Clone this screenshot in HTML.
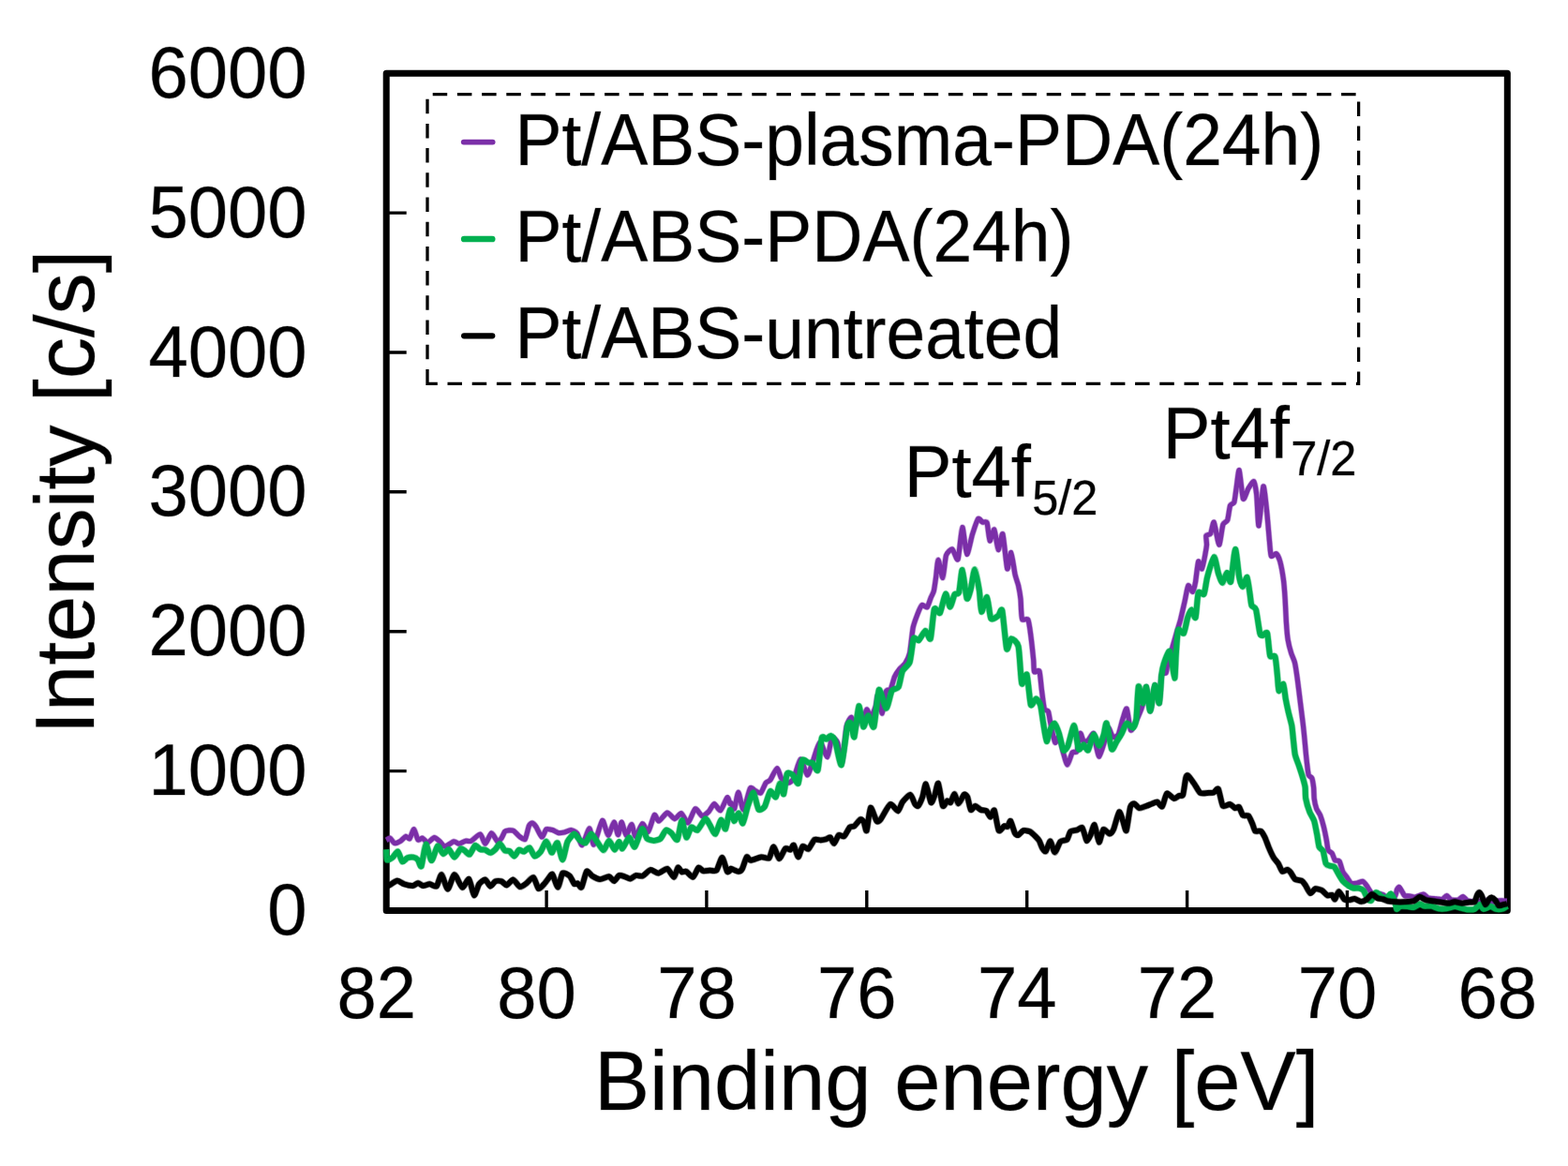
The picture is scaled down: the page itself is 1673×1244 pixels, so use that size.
<!DOCTYPE html>
<html lang="en">
<head>
<meta charset="utf-8">
<title>Pt4f XPS spectra</title>
<style>
html,body{margin:0;padding:0;background:#fff;}
body{width:1673px;height:1244px;overflow:hidden;}
svg{display:block;font-family:"Liberation Sans",Arial,Helvetica,sans-serif;fill:#000;}
text{stroke:#000;stroke-opacity:.3;stroke-width:1.1px;paint-order:stroke;stroke-linejoin:round;}
.halo{opacity:.4;}
.t75{font-size:75px;}
.t76{font-size:76px;}
.t88{font-size:88.6px;}
.sub{font-size:50.5px;}
</style>
</head>
<body>
<svg width="1673" height="1244" viewBox="0 0 1673 1244">
<rect width="1673" height="1244" fill="#fff"/>
<g>
<g class="t76">
<text transform="translate(327.5,103.8) scale(1,1.035)" text-anchor="end">6000</text>
<text transform="translate(327.5,252.7) scale(1,1.035)" text-anchor="end">5000</text>
<text transform="translate(327.5,401.6) scale(1,1.035)" text-anchor="end">4000</text>
<text transform="translate(327.5,550.4) scale(1,1.035)" text-anchor="end">3000</text>
<text transform="translate(327.5,699.3) scale(1,1.035)" text-anchor="end">2000</text>
<text transform="translate(327.5,848.2) scale(1,1.035)" text-anchor="end">1000</text>
<text transform="translate(327.5,997.1) scale(1,1.035)" text-anchor="end">0</text>
<text transform="translate(401.7,1086.4) scale(1,1.035)" text-anchor="middle">82</text>
<text transform="translate(572.6,1086.4) scale(1,1.035)" text-anchor="middle">80</text>
<text transform="translate(743.4,1086.4) scale(1,1.035)" text-anchor="middle">78</text>
<text transform="translate(914.3,1086.4) scale(1,1.035)" text-anchor="middle">76</text>
<text transform="translate(1085.2,1086.4) scale(1,1.035)" text-anchor="middle">74</text>
<text transform="translate(1256.1,1086.4) scale(1,1.035)" text-anchor="middle">72</text>
<text transform="translate(1426.9,1086.4) scale(1,1.035)" text-anchor="middle">70</text>
<text transform="translate(1597.8,1086.4) scale(1,1.035)" text-anchor="middle">68</text>
</g>
<text class="t88" transform="translate(100,783.5) rotate(-90)" x="0" y="0">Intensity [c/s]</text>
<text class="t88" x="634" y="1184">Binding energy [eV]</text>
<rect x="412.2" y="78.2" width="1196.1" height="893.3" fill="none" stroke="#000" stroke-width="7" stroke-linejoin="round"/>
<path d="M412.2,227.1h21.5M412.2,376.0h21.5M412.2,524.8h21.5M412.2,673.7h21.5M412.2,822.6h21.5M583.1,971.5v-21.5M753.9,971.5v-21.5M924.8,971.5v-21.5M1095.7,971.5v-21.5M1266.6,971.5v-21.5M1437.4,971.5v-21.5" fill="none" stroke="#000" stroke-width="3.4"/>
<path d="M456,409.4V100.7H1449.6V409.4Z" fill="none" stroke="#000" stroke-width="3.3" stroke-dasharray="15.5 10.7"/>
<g fill="none" stroke-linecap="round" stroke-linejoin="round">
<path d="M494.8,151.6H525.6" stroke="#7b2fa8" stroke-width="5.9"/>
<path d="M495.2,255H525.2" stroke="#00b050" stroke-width="6.7"/>
<path d="M495.2,358.3H525.2" stroke="#000" stroke-width="6.3"/>
</g>
<g class="t75">
<text transform="translate(549.5,176.2) scale(1,1.025)">Pt/ABS-plasma-PDA(24h)</text>
<text transform="translate(549.5,279.3) scale(1,1.025)">Pt/ABS-PDA(24h)</text>
<text transform="translate(549.5,381.9) scale(1,1.025)">Pt/ABS-untreated</text>
<text class="t76" transform="translate(964.8,530.3) scale(1,1.03)">Pt4f<tspan class="sub" dx="1.2" dy="18">5/2</tspan></text>
<text class="t76" transform="translate(1240.8,488.6) scale(1,1.03)">Pt4f<tspan class="sub" dx="1.2" dy="18">7/2</tspan></text>
</g>
<g fill="none" stroke-linecap="butt" stroke-linejoin="round">
<path class="halo" d="M412.2,896.4C412.6,896.2 415.2,893.9 416.1,894.2C417.0,894.5 419.7,899.3 420.9,899.6C422.1,899.9 426.2,898.0 427.5,897.2C428.8,896.4 431.9,892.7 432.9,892.4C433.9,892.1 436.2,895.6 437.1,894.8C438.0,894.0 440.7,884.6 441.6,884.7C442.5,884.8 445.0,895.0 446.0,896.0C447.0,897.0 449.7,893.9 450.8,894.2C451.9,894.5 454.9,899.1 456.2,899.0C457.5,898.9 462.0,893.7 463.4,893.6C464.8,893.5 468.1,896.8 469.3,897.8C470.5,898.8 473.1,903.2 474.7,903.2C476.3,903.2 482.7,898.1 484.3,897.8C485.9,897.5 488.4,900.3 489.7,900.2C491.0,900.1 495.4,897.5 496.8,897.2C498.2,896.9 501.1,898.0 502.8,897.2C504.5,896.4 510.8,889.7 512.4,890.0C514.0,890.3 516.5,900.3 517.8,900.2C519.1,900.1 522.9,889.2 524.3,888.9C525.7,888.6 529.7,897.2 530.9,897.8C532.1,898.4 534.3,895.3 535.1,894.2C535.9,893.1 537.9,888.0 538.7,887.1C539.5,886.2 541.9,886.0 542.9,885.9C543.9,885.8 547.0,885.8 548.2,886.5C549.4,887.2 552.9,891.5 554.2,892.4C555.5,893.3 559.1,896.6 560.2,895.4C561.3,894.2 563.6,882.9 564.4,881.1C565.2,879.3 567.2,878.0 568.0,878.1C568.8,878.2 571.0,880.7 572.1,882.3C573.2,883.9 576.9,892.7 578.1,893.0C579.3,893.3 581.8,885.5 582.9,884.7C584.0,883.9 587.5,885.2 588.3,885.3C589.1,885.4 589.2,885.2 590.0,885.6C590.8,886.0 594.7,888.3 596.0,888.6C597.3,888.9 600.6,888.3 602.0,888.0C603.4,887.7 607.6,885.5 609.1,885.6C610.6,885.7 614.4,887.5 615.7,889.2C617.0,890.9 619.7,902.3 621.1,901.7C622.5,901.1 627.6,883.9 628.9,883.8C630.2,883.7 632.1,902.0 633.6,901.1C635.1,900.2 641.0,876.5 642.6,875.4C644.2,874.3 647.5,891.0 648.8,891.2C650.1,891.4 654.1,877.3 655.2,877.2C656.3,877.1 658.6,890.7 659.5,890.7C660.4,890.7 662.3,877.1 663.2,877.2C664.1,877.3 667.0,890.9 668.1,891.2C669.2,891.5 672.8,879.5 673.9,879.6C675.0,879.7 676.9,892.5 678.1,892.4C679.3,892.3 684.0,879.3 685.4,878.8C686.8,878.3 690.2,888.4 691.6,887.4C693.0,886.4 697.0,870.7 698.2,869.5C699.4,868.3 701.5,876.3 703.0,876.0C704.5,875.7 710.1,867.4 711.9,867.1C713.7,866.8 718.1,873.5 719.7,873.6C721.3,873.7 725.4,867.3 726.9,867.7C728.4,868.1 732.5,878.3 734.1,877.8C735.7,877.3 740.2,863.7 741.8,862.9C743.4,862.1 747.5,870.3 749.0,870.6C750.5,870.9 754.8,867.3 756.2,865.9C757.6,864.5 760.8,857.6 762.1,857.5C763.4,857.4 767.2,865.4 768.7,864.7C770.2,864.0 774.8,851.7 775.9,850.9C777.0,850.1 778.5,856.9 778.9,857.5C779.3,858.1 779.5,856.1 780.0,856.7C780.5,857.3 782.8,863.9 783.6,862.7C784.4,861.5 786.8,845.3 787.8,845.4C788.8,845.5 791.9,864.3 793.2,863.9C794.5,863.5 799.0,843.4 800.3,841.2C801.6,839.0 804.5,843.1 805.7,843.6C806.9,844.1 810.5,846.9 811.7,846.0C812.9,845.1 816.0,836.7 817.1,835.2C818.2,833.7 820.5,833.9 821.8,832.2C823.1,830.5 827.7,819.9 829.0,819.7C830.3,819.5 832.5,828.7 833.8,830.4C835.1,832.1 839.6,835.2 841.0,835.2C842.4,835.2 845.5,833.1 846.9,830.4C848.3,827.7 852.6,810.5 854.1,810.1C855.6,809.7 860.0,826.2 861.3,826.8C862.6,827.4 865.0,819.0 866.1,816.1C867.2,813.2 870.5,801.8 871.5,799.3C872.5,796.8 874.4,791.3 875.6,792.2C876.8,793.1 881.5,808.2 882.8,807.7C884.1,807.2 886.4,789.1 887.6,787.4C888.8,785.7 892.4,789.4 893.6,792.2C894.8,795.0 897.4,815.5 898.4,813.7C899.4,811.9 902.0,780.6 903.1,775.4C904.2,770.2 907.5,765.0 908.5,765.3C909.5,765.6 911.9,778.2 912.7,777.8C913.5,777.4 915.5,762.0 916.3,761.1C917.1,760.2 919.6,769.9 920.5,769.5C921.4,769.1 923.8,757.4 924.7,756.9C925.6,756.4 928.4,765.0 929.4,764.7C930.4,764.4 933.4,756.3 934.2,753.9C935.0,751.5 935.8,741.2 936.6,742.0C937.4,742.8 940.5,761.6 941.4,761.1C942.3,760.6 944.6,740.4 945.5,737.6C946.4,734.8 949.3,736.9 950.3,735.2C951.3,733.5 953.5,724.4 954.5,722.1C955.5,719.8 958.7,715.2 959.9,713.7C961.1,712.2 964.8,709.5 965.9,707.7C967.0,705.9 969.7,701.0 970.6,696.9C971.5,692.8 973.3,674.0 974.2,669.5C975.1,665.0 978.0,657.7 979.0,655.1C980.0,652.5 982.7,646.3 983.8,645.5C984.9,644.7 988.2,648.8 989.2,647.9C990.2,647.0 992.6,639.0 993.4,637.2C994.2,635.4 995.7,633.0 996.3,630.7C996.9,628.4 998.2,618.8 998.7,615.2C999.2,611.6 1000.3,597.2 1001.1,597.3C1001.9,597.4 1005.0,616.9 1005.9,616.4C1006.8,615.9 1008.4,595.8 1009.5,592.5C1010.6,589.2 1014.8,585.5 1016.1,585.9C1017.4,586.3 1021.0,599.2 1022.1,596.7C1023.2,594.2 1025.8,563.2 1026.8,562.6C1027.8,562.0 1030.4,590.5 1031.6,591.3C1032.8,592.1 1036.3,573.8 1037.6,569.8C1038.9,565.8 1042.4,554.9 1043.6,553.6C1044.8,552.3 1047.4,556.8 1048.4,557.2C1049.4,557.6 1052.3,555.7 1053.1,557.8C1053.9,559.9 1055.3,576.1 1056.1,576.9C1056.9,577.7 1059.9,564.0 1060.9,565.0C1061.9,566.0 1064.1,586.0 1065.1,586.5C1066.1,587.0 1068.9,567.6 1069.9,569.8C1070.9,572.0 1073.8,604.7 1074.7,606.8C1075.6,608.9 1077.9,588.9 1078.8,589.5C1079.7,590.1 1082.2,609.0 1083.0,612.8C1083.8,616.6 1086.0,622.0 1086.6,624.8C1087.2,627.6 1088.7,636.3 1089.0,639.1C1089.3,641.9 1089.4,649.2 1089.6,651.5C1089.8,653.8 1090.0,660.1 1090.8,661.1C1091.6,662.1 1095.8,659.3 1096.8,661.1C1097.8,662.9 1099.2,673.2 1099.8,677.8C1100.4,682.4 1102.3,700.0 1102.7,704.1C1103.1,708.2 1102.9,715.4 1103.6,716.7C1104.3,718.0 1108.2,714.1 1109.0,716.1C1109.8,718.1 1110.8,731.6 1111.4,735.9C1112.0,740.2 1113.5,753.7 1114.3,756.2C1115.1,758.7 1117.8,757.5 1118.5,759.2C1119.2,760.9 1120.1,768.2 1120.9,771.7C1121.7,775.2 1124.7,790.6 1125.7,792.1C1126.7,793.6 1128.9,784.8 1129.9,786.1C1130.9,787.4 1133.7,800.8 1134.7,804.0C1135.7,807.2 1137.9,816.1 1138.9,816.0C1139.9,815.9 1143.1,804.3 1144.2,802.8C1145.3,801.3 1148.1,803.8 1149.0,801.6C1149.9,799.4 1151.8,783.6 1152.6,782.5C1153.4,781.4 1155.3,790.1 1156.2,790.9C1157.1,791.7 1159.9,790.6 1161.0,789.7C1162.1,788.8 1166.0,781.7 1166.9,782.5C1167.8,783.3 1169.3,794.8 1169.9,797.4C1170.5,800.0 1172.1,807.5 1172.9,807.1C1173.7,806.7 1176.7,797.1 1177.7,793.8C1178.7,790.5 1181.5,777.3 1182.5,776.5C1183.5,775.7 1186.2,785.3 1187.3,786.1C1188.4,786.9 1192.1,785.7 1193.2,783.7C1194.3,781.7 1197.0,769.8 1198.0,766.9C1199.0,764.0 1201.3,754.9 1202.2,756.2C1203.1,757.5 1205.4,777.2 1206.4,778.9C1207.4,780.6 1210.0,774.1 1211.2,771.7C1212.4,769.3 1216.9,758.5 1217.8,756.2C1218.7,753.9 1218.9,752.7 1219.5,750.2C1220.1,747.7 1222.3,732.0 1223.1,732.9C1223.9,733.8 1226.3,758.8 1227.3,758.6C1228.3,758.4 1231.1,732.0 1232.1,731.1C1233.1,730.2 1236.1,751.4 1236.9,750.2C1237.7,749.0 1238.5,723.7 1239.3,720.3C1240.1,716.9 1243.4,719.1 1244.1,717.9C1244.8,716.7 1245.0,712.1 1245.7,709.1C1246.4,706.1 1250.0,693.8 1251.1,690.0C1252.2,686.2 1255.0,676.3 1255.9,673.2C1256.8,670.1 1258.6,664.7 1259.5,661.3C1260.4,657.9 1263.3,644.9 1264.2,641.0C1265.1,637.1 1266.9,625.8 1267.8,624.8C1268.7,623.8 1271.8,631.8 1272.6,631.4C1273.4,631.0 1275.0,624.0 1275.6,620.6C1276.2,617.2 1277.9,600.6 1278.6,599.1C1279.3,597.6 1281.6,607.7 1282.4,606.9C1283.2,606.1 1285.3,594.7 1285.8,592.0C1286.3,589.3 1287.4,583.4 1287.5,581.2C1287.6,579.0 1286.5,572.9 1286.9,571.6C1287.3,570.3 1290.8,570.7 1291.7,569.2C1292.6,567.7 1294.3,556.0 1295.3,557.3C1296.3,558.6 1299.7,580.9 1300.7,581.2C1301.7,581.5 1303.9,562.5 1304.9,559.7C1305.9,556.9 1308.9,557.1 1309.7,554.9C1310.5,552.7 1311.8,541.3 1312.6,539.3C1313.4,537.3 1316.1,537.8 1316.8,535.8C1317.5,533.8 1318.6,523.8 1319.2,520.2C1319.8,516.6 1321.4,500.4 1322.2,501.7C1323.0,503.0 1325.4,530.1 1326.4,532.2C1327.4,534.3 1330.6,523.4 1331.8,521.4C1333.0,519.4 1336.9,513.0 1337.8,513.6C1338.7,514.2 1340.1,522.4 1340.7,527.4C1341.3,532.4 1342.3,561.8 1343.1,560.9C1343.9,560.0 1347.0,520.8 1347.9,519.0C1348.8,517.2 1350.8,537.8 1351.5,544.1C1352.2,550.4 1354.0,572.4 1354.5,577.6C1355.0,582.8 1355.5,591.7 1356.3,593.1C1357.1,594.5 1360.7,590.1 1361.7,590.7C1362.7,591.3 1365.0,596.2 1365.8,599.1C1366.6,602.0 1368.8,614.0 1369.4,618.3C1370.0,622.6 1370.9,635.0 1371.2,639.8C1371.5,644.6 1372.1,659.1 1372.4,663.7C1372.7,668.3 1373.6,679.2 1374.2,682.8C1374.8,686.4 1377.0,694.7 1377.8,697.2C1378.6,699.7 1380.7,703.9 1381.4,706.7C1382.1,709.5 1383.6,719.5 1384.2,723.9C1384.8,728.3 1386.6,742.7 1387.2,747.8C1387.8,752.9 1389.6,766.6 1390.2,771.7C1390.8,776.8 1392.2,791.1 1392.6,795.6C1393.0,800.1 1394.0,810.3 1394.4,813.6C1394.8,816.9 1395.6,824.9 1396.2,826.7C1396.8,828.5 1399.2,828.9 1399.8,830.3C1400.4,831.7 1401.3,837.7 1401.6,840.0C1401.9,842.3 1401.9,849.6 1402.2,852.0C1402.5,854.4 1403.9,860.8 1404.6,862.7C1405.3,864.6 1407.9,867.9 1408.7,869.9C1409.5,871.9 1411.6,879.0 1412.3,881.8C1413.0,884.6 1414.8,893.5 1415.3,896.2C1415.8,898.9 1416.5,905.4 1417.1,906.9C1417.7,908.4 1420.5,909.3 1421.3,910.5C1422.1,911.7 1423.5,916.8 1424.3,917.7C1425.1,918.6 1428.2,917.6 1429.1,918.9C1430.0,920.2 1431.8,927.9 1432.6,929.7C1433.4,931.5 1435.8,934.3 1436.8,935.6C1437.8,936.9 1440.4,941.5 1441.6,942.2C1442.8,942.9 1446.3,942.4 1447.6,942.2C1448.9,942.0 1453.0,940.1 1454.2,940.4C1455.4,940.7 1457.5,943.9 1458.4,945.2C1459.3,946.5 1462.0,951.4 1463.1,952.4C1464.2,953.4 1468.4,954.7 1469.1,954.8C1469.8,954.9 1469.3,953.6 1470.0,953.6C1470.7,953.6 1474.7,954.2 1475.7,954.6C1476.7,955.0 1478.3,957.3 1479.6,957.5C1480.9,957.7 1487.0,957.4 1488.2,956.5C1489.4,955.6 1490.1,950.0 1490.6,948.9C1491.1,947.8 1492.3,946.1 1493.0,946.5C1493.7,946.9 1496.2,951.7 1496.8,952.7C1497.4,953.7 1497.9,955.2 1498.7,955.6C1499.5,956.0 1503.2,955.9 1504.4,956.0C1505.6,956.1 1508.7,957.2 1510.2,957.0C1511.7,956.8 1517.4,954.0 1518.8,954.1C1520.2,954.2 1522.2,957.4 1523.6,957.9C1525.0,958.4 1530.6,958.7 1532.2,958.9C1533.8,959.1 1537.7,959.8 1538.9,959.4C1540.1,959.0 1542.6,955.5 1543.6,955.6C1544.6,955.7 1547.1,959.4 1548.4,959.9C1549.7,960.4 1554.8,960.3 1556.1,959.9C1557.4,959.5 1559.9,956.4 1560.9,956.5C1561.9,956.6 1564.3,960.2 1565.6,960.8C1566.9,961.4 1571.3,961.8 1573.3,961.8C1575.3,961.8 1582.9,960.8 1584.8,960.8C1586.7,960.8 1590.2,962.1 1591.5,962.2C1592.8,962.3 1596.1,961.4 1597.2,961.3C1598.3,961.2 1600.9,960.8 1602.0,960.8C1603.1,960.8 1607.1,961.2 1607.7,961.3" stroke="#7b2fa8" stroke-width="6.6"/>
<path id="c-purple" d="M412.2,896.4C412.6,896.2 415.2,893.9 416.1,894.2C417.0,894.5 419.7,899.3 420.9,899.6C422.1,899.9 426.2,898.0 427.5,897.2C428.8,896.4 431.9,892.7 432.9,892.4C433.9,892.1 436.2,895.6 437.1,894.8C438.0,894.0 440.7,884.6 441.6,884.7C442.5,884.8 445.0,895.0 446.0,896.0C447.0,897.0 449.7,893.9 450.8,894.2C451.9,894.5 454.9,899.1 456.2,899.0C457.5,898.9 462.0,893.7 463.4,893.6C464.8,893.5 468.1,896.8 469.3,897.8C470.5,898.8 473.1,903.2 474.7,903.2C476.3,903.2 482.7,898.1 484.3,897.8C485.9,897.5 488.4,900.3 489.7,900.2C491.0,900.1 495.4,897.5 496.8,897.2C498.2,896.9 501.1,898.0 502.8,897.2C504.5,896.4 510.8,889.7 512.4,890.0C514.0,890.3 516.5,900.3 517.8,900.2C519.1,900.1 522.9,889.2 524.3,888.9C525.7,888.6 529.7,897.2 530.9,897.8C532.1,898.4 534.3,895.3 535.1,894.2C535.9,893.1 537.9,888.0 538.7,887.1C539.5,886.2 541.9,886.0 542.9,885.9C543.9,885.8 547.0,885.8 548.2,886.5C549.4,887.2 552.9,891.5 554.2,892.4C555.5,893.3 559.1,896.6 560.2,895.4C561.3,894.2 563.6,882.9 564.4,881.1C565.2,879.3 567.2,878.0 568.0,878.1C568.8,878.2 571.0,880.7 572.1,882.3C573.2,883.9 576.9,892.7 578.1,893.0C579.3,893.3 581.8,885.5 582.9,884.7C584.0,883.9 587.5,885.2 588.3,885.3C589.1,885.4 589.2,885.2 590.0,885.6C590.8,886.0 594.7,888.3 596.0,888.6C597.3,888.9 600.6,888.3 602.0,888.0C603.4,887.7 607.6,885.5 609.1,885.6C610.6,885.7 614.4,887.5 615.7,889.2C617.0,890.9 619.7,902.3 621.1,901.7C622.5,901.1 627.6,883.9 628.9,883.8C630.2,883.7 632.1,902.0 633.6,901.1C635.1,900.2 641.0,876.5 642.6,875.4C644.2,874.3 647.5,891.0 648.8,891.2C650.1,891.4 654.1,877.3 655.2,877.2C656.3,877.1 658.6,890.7 659.5,890.7C660.4,890.7 662.3,877.1 663.2,877.2C664.1,877.3 667.0,890.9 668.1,891.2C669.2,891.5 672.8,879.5 673.9,879.6C675.0,879.7 676.9,892.5 678.1,892.4C679.3,892.3 684.0,879.3 685.4,878.8C686.8,878.3 690.2,888.4 691.6,887.4C693.0,886.4 697.0,870.7 698.2,869.5C699.4,868.3 701.5,876.3 703.0,876.0C704.5,875.7 710.1,867.4 711.9,867.1C713.7,866.8 718.1,873.5 719.7,873.6C721.3,873.7 725.4,867.3 726.9,867.7C728.4,868.1 732.5,878.3 734.1,877.8C735.7,877.3 740.2,863.7 741.8,862.9C743.4,862.1 747.5,870.3 749.0,870.6C750.5,870.9 754.8,867.3 756.2,865.9C757.6,864.5 760.8,857.6 762.1,857.5C763.4,857.4 767.2,865.4 768.7,864.7C770.2,864.0 774.8,851.7 775.9,850.9C777.0,850.1 778.5,856.9 778.9,857.5C779.3,858.1 779.5,856.1 780.0,856.7C780.5,857.3 782.8,863.9 783.6,862.7C784.4,861.5 786.8,845.3 787.8,845.4C788.8,845.5 791.9,864.3 793.2,863.9C794.5,863.5 799.0,843.4 800.3,841.2C801.6,839.0 804.5,843.1 805.7,843.6C806.9,844.1 810.5,846.9 811.7,846.0C812.9,845.1 816.0,836.7 817.1,835.2C818.2,833.7 820.5,833.9 821.8,832.2C823.1,830.5 827.7,819.9 829.0,819.7C830.3,819.5 832.5,828.7 833.8,830.4C835.1,832.1 839.6,835.2 841.0,835.2C842.4,835.2 845.5,833.1 846.9,830.4C848.3,827.7 852.6,810.5 854.1,810.1C855.6,809.7 860.0,826.2 861.3,826.8C862.6,827.4 865.0,819.0 866.1,816.1C867.2,813.2 870.5,801.8 871.5,799.3C872.5,796.8 874.4,791.3 875.6,792.2C876.8,793.1 881.5,808.2 882.8,807.7C884.1,807.2 886.4,789.1 887.6,787.4C888.8,785.7 892.4,789.4 893.6,792.2C894.8,795.0 897.4,815.5 898.4,813.7C899.4,811.9 902.0,780.6 903.1,775.4C904.2,770.2 907.5,765.0 908.5,765.3C909.5,765.6 911.9,778.2 912.7,777.8C913.5,777.4 915.5,762.0 916.3,761.1C917.1,760.2 919.6,769.9 920.5,769.5C921.4,769.1 923.8,757.4 924.7,756.9C925.6,756.4 928.4,765.0 929.4,764.7C930.4,764.4 933.4,756.3 934.2,753.9C935.0,751.5 935.8,741.2 936.6,742.0C937.4,742.8 940.5,761.6 941.4,761.1C942.3,760.6 944.6,740.4 945.5,737.6C946.4,734.8 949.3,736.9 950.3,735.2C951.3,733.5 953.5,724.4 954.5,722.1C955.5,719.8 958.7,715.2 959.9,713.7C961.1,712.2 964.8,709.5 965.9,707.7C967.0,705.9 969.7,701.0 970.6,696.9C971.5,692.8 973.3,674.0 974.2,669.5C975.1,665.0 978.0,657.7 979.0,655.1C980.0,652.5 982.7,646.3 983.8,645.5C984.9,644.7 988.2,648.8 989.2,647.9C990.2,647.0 992.6,639.0 993.4,637.2C994.2,635.4 995.7,633.0 996.3,630.7C996.9,628.4 998.2,618.8 998.7,615.2C999.2,611.6 1000.3,597.2 1001.1,597.3C1001.9,597.4 1005.0,616.9 1005.9,616.4C1006.8,615.9 1008.4,595.8 1009.5,592.5C1010.6,589.2 1014.8,585.5 1016.1,585.9C1017.4,586.3 1021.0,599.2 1022.1,596.7C1023.2,594.2 1025.8,563.2 1026.8,562.6C1027.8,562.0 1030.4,590.5 1031.6,591.3C1032.8,592.1 1036.3,573.8 1037.6,569.8C1038.9,565.8 1042.4,554.9 1043.6,553.6C1044.8,552.3 1047.4,556.8 1048.4,557.2C1049.4,557.6 1052.3,555.7 1053.1,557.8C1053.9,559.9 1055.3,576.1 1056.1,576.9C1056.9,577.7 1059.9,564.0 1060.9,565.0C1061.9,566.0 1064.1,586.0 1065.1,586.5C1066.1,587.0 1068.9,567.6 1069.9,569.8C1070.9,572.0 1073.8,604.7 1074.7,606.8C1075.6,608.9 1077.9,588.9 1078.8,589.5C1079.7,590.1 1082.2,609.0 1083.0,612.8C1083.8,616.6 1086.0,622.0 1086.6,624.8C1087.2,627.6 1088.7,636.3 1089.0,639.1C1089.3,641.9 1089.4,649.2 1089.6,651.5C1089.8,653.8 1090.0,660.1 1090.8,661.1C1091.6,662.1 1095.8,659.3 1096.8,661.1C1097.8,662.9 1099.2,673.2 1099.8,677.8C1100.4,682.4 1102.3,700.0 1102.7,704.1C1103.1,708.2 1102.9,715.4 1103.6,716.7C1104.3,718.0 1108.2,714.1 1109.0,716.1C1109.8,718.1 1110.8,731.6 1111.4,735.9C1112.0,740.2 1113.5,753.7 1114.3,756.2C1115.1,758.7 1117.8,757.5 1118.5,759.2C1119.2,760.9 1120.1,768.2 1120.9,771.7C1121.7,775.2 1124.7,790.6 1125.7,792.1C1126.7,793.6 1128.9,784.8 1129.9,786.1C1130.9,787.4 1133.7,800.8 1134.7,804.0C1135.7,807.2 1137.9,816.1 1138.9,816.0C1139.9,815.9 1143.1,804.3 1144.2,802.8C1145.3,801.3 1148.1,803.8 1149.0,801.6C1149.9,799.4 1151.8,783.6 1152.6,782.5C1153.4,781.4 1155.3,790.1 1156.2,790.9C1157.1,791.7 1159.9,790.6 1161.0,789.7C1162.1,788.8 1166.0,781.7 1166.9,782.5C1167.8,783.3 1169.3,794.8 1169.9,797.4C1170.5,800.0 1172.1,807.5 1172.9,807.1C1173.7,806.7 1176.7,797.1 1177.7,793.8C1178.7,790.5 1181.5,777.3 1182.5,776.5C1183.5,775.7 1186.2,785.3 1187.3,786.1C1188.4,786.9 1192.1,785.7 1193.2,783.7C1194.3,781.7 1197.0,769.8 1198.0,766.9C1199.0,764.0 1201.3,754.9 1202.2,756.2C1203.1,757.5 1205.4,777.2 1206.4,778.9C1207.4,780.6 1210.0,774.1 1211.2,771.7C1212.4,769.3 1216.9,758.5 1217.8,756.2C1218.7,753.9 1218.9,752.7 1219.5,750.2C1220.1,747.7 1222.3,732.0 1223.1,732.9C1223.9,733.8 1226.3,758.8 1227.3,758.6C1228.3,758.4 1231.1,732.0 1232.1,731.1C1233.1,730.2 1236.1,751.4 1236.9,750.2C1237.7,749.0 1238.5,723.7 1239.3,720.3C1240.1,716.9 1243.4,719.1 1244.1,717.9C1244.8,716.7 1245.0,712.1 1245.7,709.1C1246.4,706.1 1250.0,693.8 1251.1,690.0C1252.2,686.2 1255.0,676.3 1255.9,673.2C1256.8,670.1 1258.6,664.7 1259.5,661.3C1260.4,657.9 1263.3,644.9 1264.2,641.0C1265.1,637.1 1266.9,625.8 1267.8,624.8C1268.7,623.8 1271.8,631.8 1272.6,631.4C1273.4,631.0 1275.0,624.0 1275.6,620.6C1276.2,617.2 1277.9,600.6 1278.6,599.1C1279.3,597.6 1281.6,607.7 1282.4,606.9C1283.2,606.1 1285.3,594.7 1285.8,592.0C1286.3,589.3 1287.4,583.4 1287.5,581.2C1287.6,579.0 1286.5,572.9 1286.9,571.6C1287.3,570.3 1290.8,570.7 1291.7,569.2C1292.6,567.7 1294.3,556.0 1295.3,557.3C1296.3,558.6 1299.7,580.9 1300.7,581.2C1301.7,581.5 1303.9,562.5 1304.9,559.7C1305.9,556.9 1308.9,557.1 1309.7,554.9C1310.5,552.7 1311.8,541.3 1312.6,539.3C1313.4,537.3 1316.1,537.8 1316.8,535.8C1317.5,533.8 1318.6,523.8 1319.2,520.2C1319.8,516.6 1321.4,500.4 1322.2,501.7C1323.0,503.0 1325.4,530.1 1326.4,532.2C1327.4,534.3 1330.6,523.4 1331.8,521.4C1333.0,519.4 1336.9,513.0 1337.8,513.6C1338.7,514.2 1340.1,522.4 1340.7,527.4C1341.3,532.4 1342.3,561.8 1343.1,560.9C1343.9,560.0 1347.0,520.8 1347.9,519.0C1348.8,517.2 1350.8,537.8 1351.5,544.1C1352.2,550.4 1354.0,572.4 1354.5,577.6C1355.0,582.8 1355.5,591.7 1356.3,593.1C1357.1,594.5 1360.7,590.1 1361.7,590.7C1362.7,591.3 1365.0,596.2 1365.8,599.1C1366.6,602.0 1368.8,614.0 1369.4,618.3C1370.0,622.6 1370.9,635.0 1371.2,639.8C1371.5,644.6 1372.1,659.1 1372.4,663.7C1372.7,668.3 1373.6,679.2 1374.2,682.8C1374.8,686.4 1377.0,694.7 1377.8,697.2C1378.6,699.7 1380.7,703.9 1381.4,706.7C1382.1,709.5 1383.6,719.5 1384.2,723.9C1384.8,728.3 1386.6,742.7 1387.2,747.8C1387.8,752.9 1389.6,766.6 1390.2,771.7C1390.8,776.8 1392.2,791.1 1392.6,795.6C1393.0,800.1 1394.0,810.3 1394.4,813.6C1394.8,816.9 1395.6,824.9 1396.2,826.7C1396.8,828.5 1399.2,828.9 1399.8,830.3C1400.4,831.7 1401.3,837.7 1401.6,840.0C1401.9,842.3 1401.9,849.6 1402.2,852.0C1402.5,854.4 1403.9,860.8 1404.6,862.7C1405.3,864.6 1407.9,867.9 1408.7,869.9C1409.5,871.9 1411.6,879.0 1412.3,881.8C1413.0,884.6 1414.8,893.5 1415.3,896.2C1415.8,898.9 1416.5,905.4 1417.1,906.9C1417.7,908.4 1420.5,909.3 1421.3,910.5C1422.1,911.7 1423.5,916.8 1424.3,917.7C1425.1,918.6 1428.2,917.6 1429.1,918.9C1430.0,920.2 1431.8,927.9 1432.6,929.7C1433.4,931.5 1435.8,934.3 1436.8,935.6C1437.8,936.9 1440.4,941.5 1441.6,942.2C1442.8,942.9 1446.3,942.4 1447.6,942.2C1448.9,942.0 1453.0,940.1 1454.2,940.4C1455.4,940.7 1457.5,943.9 1458.4,945.2C1459.3,946.5 1462.0,951.4 1463.1,952.4C1464.2,953.4 1468.4,954.7 1469.1,954.8C1469.8,954.9 1469.3,953.6 1470.0,953.6C1470.7,953.6 1474.7,954.2 1475.7,954.6C1476.7,955.0 1478.3,957.3 1479.6,957.5C1480.9,957.7 1487.0,957.4 1488.2,956.5C1489.4,955.6 1490.1,950.0 1490.6,948.9C1491.1,947.8 1492.3,946.1 1493.0,946.5C1493.7,946.9 1496.2,951.7 1496.8,952.7C1497.4,953.7 1497.9,955.2 1498.7,955.6C1499.5,956.0 1503.2,955.9 1504.4,956.0C1505.6,956.1 1508.7,957.2 1510.2,957.0C1511.7,956.8 1517.4,954.0 1518.8,954.1C1520.2,954.2 1522.2,957.4 1523.6,957.9C1525.0,958.4 1530.6,958.7 1532.2,958.9C1533.8,959.1 1537.7,959.8 1538.9,959.4C1540.1,959.0 1542.6,955.5 1543.6,955.6C1544.6,955.7 1547.1,959.4 1548.4,959.9C1549.7,960.4 1554.8,960.3 1556.1,959.9C1557.4,959.5 1559.9,956.4 1560.9,956.5C1561.9,956.6 1564.3,960.2 1565.6,960.8C1566.9,961.4 1571.3,961.8 1573.3,961.8C1575.3,961.8 1582.9,960.8 1584.8,960.8C1586.7,960.8 1590.2,962.1 1591.5,962.2C1592.8,962.3 1596.1,961.4 1597.2,961.3C1598.3,961.2 1600.9,960.8 1602.0,960.8C1603.1,960.8 1607.1,961.2 1607.7,961.3" stroke="#7b2fa8" stroke-width="5.2"/>
<path class="halo" d="M412.2,906.2C412.3,907.4 412.2,916.6 412.9,917.5C413.6,918.4 417.9,915.5 419.1,914.6C420.3,913.7 423.4,908.1 424.5,908.6C425.6,909.1 428.2,918.6 429.3,919.3C430.4,920.0 433.4,915.7 434.7,915.2C436.0,914.7 440.0,914.4 441.2,914.6C442.4,914.8 445.1,916.5 446.0,917.5C446.9,918.5 448.7,925.9 449.6,924.1C450.5,922.3 453.2,901.4 454.4,900.8C455.6,900.2 459.1,917.9 460.4,918.1C461.7,918.3 465.6,903.4 466.9,902.6C468.2,901.8 471.6,910.6 472.9,911.0C474.2,911.4 477.6,905.8 478.9,906.2C480.2,906.6 483.6,914.7 484.9,914.6C486.2,914.5 490.4,906.4 491.5,905.6C492.6,904.8 494.6,906.8 495.6,907.4C496.6,908.0 499.8,912.2 501.0,911.6C502.2,911.0 505.8,902.6 507.0,902.0C508.2,901.4 511.2,905.7 512.4,906.2C513.6,906.7 516.7,906.4 517.8,906.8C518.9,907.2 522.0,909.9 523.1,909.8C524.2,909.7 527.4,907.2 528.5,906.2C529.6,905.2 532.2,900.1 533.3,900.2C534.4,900.3 537.6,906.6 538.7,907.4C539.8,908.2 542.4,907.4 543.5,908.0C544.6,908.6 547.7,913.5 548.8,913.4C549.9,913.3 552.5,907.3 553.6,906.8C554.7,906.3 557.8,908.9 559.0,908.6C560.2,908.3 563.8,903.9 565.0,904.4C566.2,904.9 569.1,913.0 570.4,913.4C571.7,913.8 575.6,910.3 576.9,908.6C578.2,906.9 581.7,897.7 582.9,897.8C584.1,897.9 587.5,908.1 588.3,909.2C589.1,910.3 589.3,908.8 590.0,907.7C590.7,906.6 593.7,898.3 594.8,899.3C595.9,900.3 599.1,917.4 600.2,917.3C601.3,917.2 604.2,901.0 605.5,898.1C606.8,895.2 611.3,890.0 612.7,889.8C614.1,889.6 617.4,895.3 618.7,896.3C620.0,897.3 623.4,900.0 624.7,899.3C626.0,898.6 629.4,890.1 630.6,889.8C631.8,889.5 634.6,894.5 636.0,896.3C637.4,898.1 642.3,907.0 643.8,907.1C645.3,907.2 648.5,897.0 649.8,896.9C651.1,896.8 654.7,906.4 655.8,906.5C656.9,906.6 659.6,898.2 660.5,898.1C661.4,898.0 662.9,905.8 664.1,905.3C665.3,904.8 669.9,893.6 671.3,893.4C672.7,893.2 675.8,904.5 677.3,903.5C678.8,902.5 683.6,885.3 685.0,884.4C686.4,883.5 689.1,893.3 690.4,894.6C691.7,895.9 696.1,896.9 697.6,896.9C699.1,896.9 703.4,895.8 704.8,894.6C706.2,893.4 709.4,886.2 710.7,885.6C712.0,885.0 715.4,888.1 716.7,889.2C718.0,890.3 721.5,897.3 722.7,895.8C723.9,894.3 726.5,875.7 727.5,875.4C728.5,875.1 731.2,892.6 732.3,893.4C733.4,894.2 736.3,883.4 737.6,882.6C738.9,881.8 742.6,886.6 744.2,885.6C745.8,884.6 751.2,874.2 752.6,873.6C754.0,873.0 756.3,878.5 757.4,880.2C758.5,881.9 762.0,890.4 763.3,889.8C764.6,889.2 768.1,875.4 769.3,874.8C770.5,874.2 773.1,885.5 774.1,884.4C775.1,883.3 777.9,865.0 778.9,864.1C779.9,863.2 782.2,875.6 783.2,876.0C784.2,876.4 787.2,867.2 788.2,867.5C789.2,867.8 791.6,879.2 792.6,878.4C793.6,877.6 796.7,863.4 797.9,859.9C799.1,856.4 802.7,845.1 803.9,845.5C805.1,845.9 808.0,861.9 809.3,863.5C810.6,865.1 814.6,862.5 815.9,860.5C817.2,858.5 820.5,845.4 821.8,844.3C823.1,843.2 826.7,851.2 827.8,850.3C828.9,849.4 831.1,836.3 832.0,836.0C832.9,835.7 835.4,848.3 836.2,847.2C837.0,846.1 838.8,827.8 839.8,825.6C840.8,823.4 844.5,825.7 845.8,826.8C847.1,827.9 850.6,837.5 851.7,835.8C852.8,834.1 854.7,813.7 855.9,811.3C857.1,808.9 861.3,813.4 862.5,813.7C863.7,814.0 866.2,813.5 867.3,814.3C868.4,815.1 871.6,824.4 872.6,821.5C873.6,818.6 875.8,790.9 876.8,787.4C877.8,783.9 880.6,788.9 881.6,788.6C882.6,788.3 885.4,784.7 886.4,785.0C887.4,785.3 890.0,787.7 891.2,791.0C892.4,794.3 896.4,817.9 897.8,816.1C899.2,814.3 903.2,778.9 904.3,774.2C905.4,769.5 907.1,770.5 907.9,771.8C908.7,773.1 910.6,788.2 911.5,786.2C912.4,784.2 915.3,754.5 916.3,753.3C917.3,752.1 920.0,774.3 921.1,775.4C922.2,776.5 925.2,763.5 926.4,763.5C927.6,763.5 931.2,778.3 932.4,775.4C933.6,772.5 936.4,738.1 937.8,736.0C939.2,733.9 944.1,755.6 945.6,755.7C947.1,755.8 950.1,739.6 951.5,737.2C952.9,734.8 957.5,735.1 958.7,732.8C959.9,730.5 961.6,718.9 962.9,716.1C964.2,713.3 969.3,710.2 970.6,706.5C971.9,702.8 973.8,683.9 974.8,681.4C975.8,678.9 978.9,684.1 980.2,683.2C981.5,682.3 986.1,673.2 987.4,673.0C988.7,672.8 991.8,683.9 992.8,681.4C993.8,678.9 995.8,652.6 996.9,649.7C998.0,646.8 1001.6,655.6 1002.9,653.9C1004.2,652.2 1007.7,634.3 1008.9,633.6C1010.1,632.9 1012.7,647.4 1013.7,647.5C1014.7,647.6 1017.5,636.0 1018.5,634.3C1019.5,632.6 1022.3,634.7 1023.2,631.9C1024.1,629.1 1025.9,607.3 1026.8,608.0C1027.7,608.7 1030.6,636.3 1031.6,638.5C1032.6,640.7 1034.9,631.7 1035.8,628.4C1036.7,625.1 1039.0,607.3 1040.0,607.4C1041.0,607.5 1044.0,624.7 1044.8,629.5C1045.6,634.3 1046.3,651.9 1047.2,652.7C1048.1,653.5 1052.0,636.4 1053.1,637.2C1054.2,638.0 1056.0,657.8 1057.3,659.9C1058.6,662.0 1063.8,657.8 1065.1,656.9C1066.4,656.0 1068.3,647.7 1069.3,651.5C1070.3,655.3 1073.1,689.0 1074.1,692.2C1075.1,695.4 1077.5,681.7 1078.8,681.4C1080.1,681.1 1085.4,684.7 1086.6,689.8C1087.8,694.9 1089.2,726.0 1090.2,729.2C1091.2,732.4 1094.6,717.3 1095.6,719.7C1096.6,722.1 1098.8,749.2 1099.8,751.9C1100.8,754.6 1104.3,745.3 1105.4,745.4C1106.5,745.5 1109.4,749.8 1110.2,752.6C1111.0,755.4 1112.5,767.6 1113.2,771.7C1113.9,775.8 1115.9,790.1 1116.7,790.9C1117.5,791.7 1119.4,780.9 1120.3,778.9C1121.2,776.9 1124.1,771.3 1125.1,771.7C1126.1,772.1 1128.9,779.4 1129.9,782.5C1130.9,785.6 1133.7,799.0 1134.7,800.4C1135.7,801.8 1138.3,798.4 1139.5,795.6C1140.7,792.8 1144.8,773.7 1146.0,774.1C1147.2,774.5 1149.7,797.0 1150.8,799.2C1151.9,801.4 1155.1,794.3 1156.2,794.4C1157.3,794.5 1159.9,801.5 1161.0,800.4C1162.1,799.3 1165.6,784.2 1166.9,783.7C1168.2,783.2 1171.7,795.6 1172.9,795.6C1174.1,795.6 1176.9,786.2 1177.7,783.7C1178.5,781.2 1179.8,770.0 1180.7,771.7C1181.6,773.4 1185.0,797.0 1186.1,799.2C1187.2,801.4 1189.8,793.9 1190.9,792.1C1192.0,790.3 1195.6,784.7 1196.8,782.5C1198.0,780.3 1200.9,772.3 1202.2,771.7C1203.5,771.1 1207.7,777.0 1208.8,776.5C1209.9,776.0 1211.8,771.6 1212.4,766.9C1213.0,762.2 1214.0,734.1 1214.8,732.3C1215.6,730.5 1218.6,750.1 1219.5,750.2C1220.4,750.3 1222.3,732.0 1223.1,732.9C1223.9,733.8 1226.3,758.8 1227.3,758.6C1228.3,758.4 1231.1,732.0 1232.1,731.1C1233.1,730.2 1236.1,751.4 1236.9,750.2C1237.7,749.0 1238.8,724.8 1239.3,720.3C1239.8,715.8 1240.8,711.1 1241.7,708.4C1242.6,705.7 1246.9,693.2 1248.1,694.8C1249.3,696.4 1252.5,723.0 1253.2,723.5C1253.9,724.0 1254.3,705.0 1254.7,699.5C1255.1,694.0 1256.2,674.6 1257.1,672.1C1258.0,669.6 1261.9,677.0 1263.0,675.6C1264.1,674.2 1266.3,661.6 1267.2,658.9C1268.1,656.2 1270.5,650.5 1271.4,650.5C1272.3,650.5 1274.8,660.8 1275.6,658.9C1276.4,657.0 1277.6,635.3 1278.6,632.6C1279.6,629.9 1283.6,635.6 1284.6,633.8C1285.6,632.0 1287.0,620.1 1288.1,615.9C1289.2,611.7 1294.0,594.7 1295.3,594.3C1296.6,593.9 1299.1,609.4 1300.1,612.3C1301.1,615.2 1303.3,621.9 1304.3,621.8C1305.3,621.7 1308.2,611.2 1309.1,611.1C1310.0,611.0 1312.3,623.3 1313.2,620.6C1314.1,617.9 1317.0,586.5 1318.0,586.0C1319.0,585.5 1321.4,611.6 1322.2,615.9C1323.0,620.2 1324.9,626.0 1325.8,626.0C1326.7,626.0 1329.8,615.1 1330.6,615.9C1331.4,616.7 1333.1,630.6 1333.6,633.8C1334.1,637.0 1334.7,644.0 1335.4,645.8C1336.1,647.6 1339.2,647.3 1340.1,650.5C1341.0,653.7 1343.5,672.7 1344.3,675.6C1345.1,678.5 1346.5,678.0 1347.3,678.0C1348.1,678.0 1351.3,673.3 1352.1,675.6C1352.9,677.9 1354.2,696.8 1355.1,699.5C1356.0,702.2 1359.6,698.2 1360.5,700.7C1361.4,703.2 1362.7,718.8 1363.1,722.7C1363.5,726.6 1363.8,736.3 1364.5,737.1C1365.2,737.9 1368.5,729.0 1369.3,729.9C1370.1,730.8 1371.1,742.2 1371.7,745.4C1372.3,748.6 1374.0,756.7 1374.7,759.8C1375.4,762.9 1377.7,770.9 1378.3,774.1C1378.9,777.3 1379.6,786.4 1380.0,789.7C1380.4,793.0 1381.2,802.3 1381.8,805.2C1382.4,808.1 1385.1,814.5 1386.0,817.2C1386.9,819.9 1389.5,827.9 1390.2,830.3C1390.9,832.7 1392.3,837.7 1392.6,840.0C1392.9,842.3 1392.7,849.2 1393.2,852.0C1393.7,854.8 1396.4,863.8 1397.4,866.3C1398.4,868.8 1401.4,873.4 1402.2,875.9C1403.0,878.4 1404.6,887.3 1405.2,890.2C1405.8,893.1 1406.8,901.5 1407.5,903.4C1408.2,905.3 1410.9,906.2 1411.7,908.1C1412.5,910.0 1413.9,919.6 1414.7,921.3C1415.5,923.0 1417.9,923.3 1418.9,923.7C1419.9,924.1 1422.7,923.9 1423.7,924.9C1424.7,925.9 1427.5,931.5 1428.5,933.2C1429.5,934.9 1432.1,939.1 1433.2,940.4C1434.3,941.7 1438.0,944.4 1439.2,945.2C1440.4,946.0 1442.8,947.3 1444.0,947.6C1445.2,947.9 1448.8,947.3 1450.0,947.6C1451.2,947.9 1453.8,948.7 1454.8,950.0C1455.8,951.3 1458.6,958.4 1459.5,959.5C1460.4,960.6 1462.2,961.5 1463.1,960.7C1464.0,959.9 1467.0,953.1 1467.9,952.4C1468.8,951.7 1470.9,953.8 1471.5,954.2C1472.1,954.6 1472.9,956.1 1473.8,956.5C1474.7,956.9 1478.5,958.2 1479.6,957.9C1480.7,957.6 1483.0,953.2 1483.9,953.6C1484.8,954.0 1487.5,959.6 1488.2,961.3C1488.9,963.0 1489.5,969.3 1490.1,969.9C1490.7,970.5 1492.7,967.3 1493.9,967.0C1495.1,966.7 1500.1,966.9 1501.6,967.0C1503.1,967.1 1506.9,968.3 1508.3,968.0C1509.7,967.7 1513.7,964.7 1514.9,964.6C1516.1,964.5 1518.4,966.4 1519.7,966.6C1521.0,966.8 1525.8,966.3 1527.4,966.6C1529.0,966.9 1533.4,969.1 1535.0,969.4C1536.6,969.7 1540.9,969.7 1542.7,969.4C1544.5,969.1 1550.6,967.1 1552.2,967.0C1553.8,966.9 1556.6,968.1 1558.0,968.5C1559.4,968.9 1564.0,970.3 1565.6,970.4C1567.2,970.5 1571.9,970.5 1573.3,969.9C1574.7,969.3 1578.0,965.1 1579.0,965.1C1580.0,965.1 1581.7,969.7 1582.9,969.9C1584.1,970.1 1589.1,967.0 1590.5,967.0C1591.9,967.0 1594.8,969.6 1596.2,969.9C1597.6,970.2 1602.6,969.8 1603.9,969.4C1605.2,969.0 1607.7,966.9 1608.2,966.6" stroke="#00b050" stroke-width="7.4"/>
<path id="c-green" d="M412.2,906.2C412.3,907.4 412.2,916.6 412.9,917.5C413.6,918.4 417.9,915.5 419.1,914.6C420.3,913.7 423.4,908.1 424.5,908.6C425.6,909.1 428.2,918.6 429.3,919.3C430.4,920.0 433.4,915.7 434.7,915.2C436.0,914.7 440.0,914.4 441.2,914.6C442.4,914.8 445.1,916.5 446.0,917.5C446.9,918.5 448.7,925.9 449.6,924.1C450.5,922.3 453.2,901.4 454.4,900.8C455.6,900.2 459.1,917.9 460.4,918.1C461.7,918.3 465.6,903.4 466.9,902.6C468.2,901.8 471.6,910.6 472.9,911.0C474.2,911.4 477.6,905.8 478.9,906.2C480.2,906.6 483.6,914.7 484.9,914.6C486.2,914.5 490.4,906.4 491.5,905.6C492.6,904.8 494.6,906.8 495.6,907.4C496.6,908.0 499.8,912.2 501.0,911.6C502.2,911.0 505.8,902.6 507.0,902.0C508.2,901.4 511.2,905.7 512.4,906.2C513.6,906.7 516.7,906.4 517.8,906.8C518.9,907.2 522.0,909.9 523.1,909.8C524.2,909.7 527.4,907.2 528.5,906.2C529.6,905.2 532.2,900.1 533.3,900.2C534.4,900.3 537.6,906.6 538.7,907.4C539.8,908.2 542.4,907.4 543.5,908.0C544.6,908.6 547.7,913.5 548.8,913.4C549.9,913.3 552.5,907.3 553.6,906.8C554.7,906.3 557.8,908.9 559.0,908.6C560.2,908.3 563.8,903.9 565.0,904.4C566.2,904.9 569.1,913.0 570.4,913.4C571.7,913.8 575.6,910.3 576.9,908.6C578.2,906.9 581.7,897.7 582.9,897.8C584.1,897.9 587.5,908.1 588.3,909.2C589.1,910.3 589.3,908.8 590.0,907.7C590.7,906.6 593.7,898.3 594.8,899.3C595.9,900.3 599.1,917.4 600.2,917.3C601.3,917.2 604.2,901.0 605.5,898.1C606.8,895.2 611.3,890.0 612.7,889.8C614.1,889.6 617.4,895.3 618.7,896.3C620.0,897.3 623.4,900.0 624.7,899.3C626.0,898.6 629.4,890.1 630.6,889.8C631.8,889.5 634.6,894.5 636.0,896.3C637.4,898.1 642.3,907.0 643.8,907.1C645.3,907.2 648.5,897.0 649.8,896.9C651.1,896.8 654.7,906.4 655.8,906.5C656.9,906.6 659.6,898.2 660.5,898.1C661.4,898.0 662.9,905.8 664.1,905.3C665.3,904.8 669.9,893.6 671.3,893.4C672.7,893.2 675.8,904.5 677.3,903.5C678.8,902.5 683.6,885.3 685.0,884.4C686.4,883.5 689.1,893.3 690.4,894.6C691.7,895.9 696.1,896.9 697.6,896.9C699.1,896.9 703.4,895.8 704.8,894.6C706.2,893.4 709.4,886.2 710.7,885.6C712.0,885.0 715.4,888.1 716.7,889.2C718.0,890.3 721.5,897.3 722.7,895.8C723.9,894.3 726.5,875.7 727.5,875.4C728.5,875.1 731.2,892.6 732.3,893.4C733.4,894.2 736.3,883.4 737.6,882.6C738.9,881.8 742.6,886.6 744.2,885.6C745.8,884.6 751.2,874.2 752.6,873.6C754.0,873.0 756.3,878.5 757.4,880.2C758.5,881.9 762.0,890.4 763.3,889.8C764.6,889.2 768.1,875.4 769.3,874.8C770.5,874.2 773.1,885.5 774.1,884.4C775.1,883.3 777.9,865.0 778.9,864.1C779.9,863.2 782.2,875.6 783.2,876.0C784.2,876.4 787.2,867.2 788.2,867.5C789.2,867.8 791.6,879.2 792.6,878.4C793.6,877.6 796.7,863.4 797.9,859.9C799.1,856.4 802.7,845.1 803.9,845.5C805.1,845.9 808.0,861.9 809.3,863.5C810.6,865.1 814.6,862.5 815.9,860.5C817.2,858.5 820.5,845.4 821.8,844.3C823.1,843.2 826.7,851.2 827.8,850.3C828.9,849.4 831.1,836.3 832.0,836.0C832.9,835.7 835.4,848.3 836.2,847.2C837.0,846.1 838.8,827.8 839.8,825.6C840.8,823.4 844.5,825.7 845.8,826.8C847.1,827.9 850.6,837.5 851.7,835.8C852.8,834.1 854.7,813.7 855.9,811.3C857.1,808.9 861.3,813.4 862.5,813.7C863.7,814.0 866.2,813.5 867.3,814.3C868.4,815.1 871.6,824.4 872.6,821.5C873.6,818.6 875.8,790.9 876.8,787.4C877.8,783.9 880.6,788.9 881.6,788.6C882.6,788.3 885.4,784.7 886.4,785.0C887.4,785.3 890.0,787.7 891.2,791.0C892.4,794.3 896.4,817.9 897.8,816.1C899.2,814.3 903.2,778.9 904.3,774.2C905.4,769.5 907.1,770.5 907.9,771.8C908.7,773.1 910.6,788.2 911.5,786.2C912.4,784.2 915.3,754.5 916.3,753.3C917.3,752.1 920.0,774.3 921.1,775.4C922.2,776.5 925.2,763.5 926.4,763.5C927.6,763.5 931.2,778.3 932.4,775.4C933.6,772.5 936.4,738.1 937.8,736.0C939.2,733.9 944.1,755.6 945.6,755.7C947.1,755.8 950.1,739.6 951.5,737.2C952.9,734.8 957.5,735.1 958.7,732.8C959.9,730.5 961.6,718.9 962.9,716.1C964.2,713.3 969.3,710.2 970.6,706.5C971.9,702.8 973.8,683.9 974.8,681.4C975.8,678.9 978.9,684.1 980.2,683.2C981.5,682.3 986.1,673.2 987.4,673.0C988.7,672.8 991.8,683.9 992.8,681.4C993.8,678.9 995.8,652.6 996.9,649.7C998.0,646.8 1001.6,655.6 1002.9,653.9C1004.2,652.2 1007.7,634.3 1008.9,633.6C1010.1,632.9 1012.7,647.4 1013.7,647.5C1014.7,647.6 1017.5,636.0 1018.5,634.3C1019.5,632.6 1022.3,634.7 1023.2,631.9C1024.1,629.1 1025.9,607.3 1026.8,608.0C1027.7,608.7 1030.6,636.3 1031.6,638.5C1032.6,640.7 1034.9,631.7 1035.8,628.4C1036.7,625.1 1039.0,607.3 1040.0,607.4C1041.0,607.5 1044.0,624.7 1044.8,629.5C1045.6,634.3 1046.3,651.9 1047.2,652.7C1048.1,653.5 1052.0,636.4 1053.1,637.2C1054.2,638.0 1056.0,657.8 1057.3,659.9C1058.6,662.0 1063.8,657.8 1065.1,656.9C1066.4,656.0 1068.3,647.7 1069.3,651.5C1070.3,655.3 1073.1,689.0 1074.1,692.2C1075.1,695.4 1077.5,681.7 1078.8,681.4C1080.1,681.1 1085.4,684.7 1086.6,689.8C1087.8,694.9 1089.2,726.0 1090.2,729.2C1091.2,732.4 1094.6,717.3 1095.6,719.7C1096.6,722.1 1098.8,749.2 1099.8,751.9C1100.8,754.6 1104.3,745.3 1105.4,745.4C1106.5,745.5 1109.4,749.8 1110.2,752.6C1111.0,755.4 1112.5,767.6 1113.2,771.7C1113.9,775.8 1115.9,790.1 1116.7,790.9C1117.5,791.7 1119.4,780.9 1120.3,778.9C1121.2,776.9 1124.1,771.3 1125.1,771.7C1126.1,772.1 1128.9,779.4 1129.9,782.5C1130.9,785.6 1133.7,799.0 1134.7,800.4C1135.7,801.8 1138.3,798.4 1139.5,795.6C1140.7,792.8 1144.8,773.7 1146.0,774.1C1147.2,774.5 1149.7,797.0 1150.8,799.2C1151.9,801.4 1155.1,794.3 1156.2,794.4C1157.3,794.5 1159.9,801.5 1161.0,800.4C1162.1,799.3 1165.6,784.2 1166.9,783.7C1168.2,783.2 1171.7,795.6 1172.9,795.6C1174.1,795.6 1176.9,786.2 1177.7,783.7C1178.5,781.2 1179.8,770.0 1180.7,771.7C1181.6,773.4 1185.0,797.0 1186.1,799.2C1187.2,801.4 1189.8,793.9 1190.9,792.1C1192.0,790.3 1195.6,784.7 1196.8,782.5C1198.0,780.3 1200.9,772.3 1202.2,771.7C1203.5,771.1 1207.7,777.0 1208.8,776.5C1209.9,776.0 1211.8,771.6 1212.4,766.9C1213.0,762.2 1214.0,734.1 1214.8,732.3C1215.6,730.5 1218.6,750.1 1219.5,750.2C1220.4,750.3 1222.3,732.0 1223.1,732.9C1223.9,733.8 1226.3,758.8 1227.3,758.6C1228.3,758.4 1231.1,732.0 1232.1,731.1C1233.1,730.2 1236.1,751.4 1236.9,750.2C1237.7,749.0 1238.8,724.8 1239.3,720.3C1239.8,715.8 1240.8,711.1 1241.7,708.4C1242.6,705.7 1246.9,693.2 1248.1,694.8C1249.3,696.4 1252.5,723.0 1253.2,723.5C1253.9,724.0 1254.3,705.0 1254.7,699.5C1255.1,694.0 1256.2,674.6 1257.1,672.1C1258.0,669.6 1261.9,677.0 1263.0,675.6C1264.1,674.2 1266.3,661.6 1267.2,658.9C1268.1,656.2 1270.5,650.5 1271.4,650.5C1272.3,650.5 1274.8,660.8 1275.6,658.9C1276.4,657.0 1277.6,635.3 1278.6,632.6C1279.6,629.9 1283.6,635.6 1284.6,633.8C1285.6,632.0 1287.0,620.1 1288.1,615.9C1289.2,611.7 1294.0,594.7 1295.3,594.3C1296.6,593.9 1299.1,609.4 1300.1,612.3C1301.1,615.2 1303.3,621.9 1304.3,621.8C1305.3,621.7 1308.2,611.2 1309.1,611.1C1310.0,611.0 1312.3,623.3 1313.2,620.6C1314.1,617.9 1317.0,586.5 1318.0,586.0C1319.0,585.5 1321.4,611.6 1322.2,615.9C1323.0,620.2 1324.9,626.0 1325.8,626.0C1326.7,626.0 1329.8,615.1 1330.6,615.9C1331.4,616.7 1333.1,630.6 1333.6,633.8C1334.1,637.0 1334.7,644.0 1335.4,645.8C1336.1,647.6 1339.2,647.3 1340.1,650.5C1341.0,653.7 1343.5,672.7 1344.3,675.6C1345.1,678.5 1346.5,678.0 1347.3,678.0C1348.1,678.0 1351.3,673.3 1352.1,675.6C1352.9,677.9 1354.2,696.8 1355.1,699.5C1356.0,702.2 1359.6,698.2 1360.5,700.7C1361.4,703.2 1362.7,718.8 1363.1,722.7C1363.5,726.6 1363.8,736.3 1364.5,737.1C1365.2,737.9 1368.5,729.0 1369.3,729.9C1370.1,730.8 1371.1,742.2 1371.7,745.4C1372.3,748.6 1374.0,756.7 1374.7,759.8C1375.4,762.9 1377.7,770.9 1378.3,774.1C1378.9,777.3 1379.6,786.4 1380.0,789.7C1380.4,793.0 1381.2,802.3 1381.8,805.2C1382.4,808.1 1385.1,814.5 1386.0,817.2C1386.9,819.9 1389.5,827.9 1390.2,830.3C1390.9,832.7 1392.3,837.7 1392.6,840.0C1392.9,842.3 1392.7,849.2 1393.2,852.0C1393.7,854.8 1396.4,863.8 1397.4,866.3C1398.4,868.8 1401.4,873.4 1402.2,875.9C1403.0,878.4 1404.6,887.3 1405.2,890.2C1405.8,893.1 1406.8,901.5 1407.5,903.4C1408.2,905.3 1410.9,906.2 1411.7,908.1C1412.5,910.0 1413.9,919.6 1414.7,921.3C1415.5,923.0 1417.9,923.3 1418.9,923.7C1419.9,924.1 1422.7,923.9 1423.7,924.9C1424.7,925.9 1427.5,931.5 1428.5,933.2C1429.5,934.9 1432.1,939.1 1433.2,940.4C1434.3,941.7 1438.0,944.4 1439.2,945.2C1440.4,946.0 1442.8,947.3 1444.0,947.6C1445.2,947.9 1448.8,947.3 1450.0,947.6C1451.2,947.9 1453.8,948.7 1454.8,950.0C1455.8,951.3 1458.6,958.4 1459.5,959.5C1460.4,960.6 1462.2,961.5 1463.1,960.7C1464.0,959.9 1467.0,953.1 1467.9,952.4C1468.8,951.7 1470.9,953.8 1471.5,954.2C1472.1,954.6 1472.9,956.1 1473.8,956.5C1474.7,956.9 1478.5,958.2 1479.6,957.9C1480.7,957.6 1483.0,953.2 1483.9,953.6C1484.8,954.0 1487.5,959.6 1488.2,961.3C1488.9,963.0 1489.5,969.3 1490.1,969.9C1490.7,970.5 1492.7,967.3 1493.9,967.0C1495.1,966.7 1500.1,966.9 1501.6,967.0C1503.1,967.1 1506.9,968.3 1508.3,968.0C1509.7,967.7 1513.7,964.7 1514.9,964.6C1516.1,964.5 1518.4,966.4 1519.7,966.6C1521.0,966.8 1525.8,966.3 1527.4,966.6C1529.0,966.9 1533.4,969.1 1535.0,969.4C1536.6,969.7 1540.9,969.7 1542.7,969.4C1544.5,969.1 1550.6,967.1 1552.2,967.0C1553.8,966.9 1556.6,968.1 1558.0,968.5C1559.4,968.9 1564.0,970.3 1565.6,970.4C1567.2,970.5 1571.9,970.5 1573.3,969.9C1574.7,969.3 1578.0,965.1 1579.0,965.1C1580.0,965.1 1581.7,969.7 1582.9,969.9C1584.1,970.1 1589.1,967.0 1590.5,967.0C1591.9,967.0 1594.8,969.6 1596.2,969.9C1597.6,970.2 1602.6,969.8 1603.9,969.4C1605.2,969.0 1607.7,966.9 1608.2,966.6" stroke="#00b050" stroke-width="6.0"/>
<path class="halo" d="M412.6,945.6C412.9,945.5 414.3,945.0 415.5,944.4C416.7,943.8 422.2,939.8 423.9,939.7C425.6,939.6 429.3,942.6 431.1,943.2C432.9,943.8 439.0,945.1 440.6,945.0C442.2,944.9 444.8,942.1 446.0,942.1C447.2,942.1 450.1,944.9 451.4,945.0C452.7,945.1 457.1,943.1 458.6,943.2C460.1,943.3 464.5,946.7 465.8,945.6C467.1,944.5 469.8,932.8 471.1,933.1C472.4,933.4 476.2,948.6 477.7,948.6C479.2,948.6 483.2,933.3 484.9,933.1C486.6,932.9 491.5,946.3 493.2,946.8C494.9,947.3 499.1,937.0 500.4,937.9C501.7,938.8 504.6,954.6 505.8,955.2C507.0,955.8 509.9,945.0 511.2,943.2C512.5,941.4 516.5,938.2 517.8,938.5C519.1,938.8 522.0,945.4 523.1,945.6C524.2,945.8 527.2,940.9 528.5,940.3C529.8,939.7 533.8,939.9 535.1,940.3C536.4,940.7 539.2,944.6 540.5,944.4C541.8,944.2 546.1,938.3 547.6,938.5C549.1,938.7 553.3,945.8 554.8,946.2C556.3,946.6 559.9,943.7 561.4,942.6C562.9,941.5 567.8,935.5 569.2,936.1C570.6,936.7 573.3,947.2 574.5,948.0C575.7,948.8 579.0,944.8 580.5,943.2C582.0,941.6 587.3,934.1 588.3,933.1C589.3,932.1 589.2,932.6 590.0,934.0C590.8,935.4 594.3,946.9 595.4,946.6C596.5,946.3 598.9,932.9 600.2,931.6C601.5,930.3 606.6,933.4 607.9,934.6C609.2,935.8 611.8,942.2 612.7,943.0C613.6,943.8 615.5,942.0 616.3,942.4C617.1,942.8 619.5,947.9 620.5,946.6C621.5,945.3 624.7,931.1 625.9,929.8C627.1,928.5 630.3,933.7 631.8,934.6C633.3,935.5 638.3,938.1 640.2,938.2C642.1,938.3 648.2,935.0 649.8,935.2C651.4,935.4 654.1,940.1 655.2,940.0C656.3,939.9 659.3,934.5 660.5,934.0C661.7,933.5 665.2,934.8 666.5,935.2C667.8,935.6 671.2,937.7 672.5,937.6C673.8,937.5 677.1,934.3 678.5,934.0C679.9,933.7 683.9,935.2 685.6,934.6C687.3,934.0 692.2,928.3 694.0,928.0C695.8,927.7 700.5,931.7 702.4,931.6C704.3,931.5 710.1,926.4 711.9,926.8C713.7,927.2 717.9,935.9 719.1,935.8C720.3,935.7 722.4,926.2 723.3,925.6C724.2,925.0 726.5,930.0 727.5,930.4C728.5,930.8 731.0,929.2 732.3,929.8C733.6,930.4 738.0,936.2 739.4,935.8C740.8,935.4 744.2,926.3 745.4,925.6C746.6,924.9 748.9,928.9 750.2,929.2C751.5,929.5 755.9,928.7 757.4,928.6C758.9,928.5 763.1,930.1 764.5,928.6C765.9,927.1 769.3,914.8 770.5,914.9C771.7,915.0 774.9,928.4 775.9,929.8C776.9,931.2 779.1,928.3 779.5,928.0C779.9,927.7 779.1,926.6 780.0,926.8C780.9,927.0 786.5,929.8 787.8,929.8C789.1,929.8 791.1,928.5 792.0,926.8C792.9,925.1 795.8,915.2 796.7,914.3C797.6,913.4 799.2,917.9 800.9,917.9C802.6,917.9 810.2,914.6 812.3,914.3C814.4,914.0 819.2,916.7 820.6,915.5C822.0,914.3 824.2,903.4 825.4,903.5C826.6,903.6 830.1,915.9 831.4,916.1C832.7,916.3 836.7,906.3 838.0,905.3C839.3,904.3 842.5,906.9 843.4,906.5C844.3,906.1 846.0,900.9 846.9,901.7C847.8,902.5 850.7,914.2 851.7,914.3C852.7,914.4 855.3,903.8 856.5,902.9C857.7,902.0 861.2,906.7 862.5,905.9C863.8,905.1 867.7,896.8 869.1,895.8C870.5,894.8 874.3,896.4 875.6,896.3C876.9,896.2 880.5,895.5 881.6,895.2C882.7,894.9 884.9,892.9 885.8,893.4C886.7,893.9 889.0,900.2 890.0,899.9C891.0,899.6 893.7,891.8 894.8,891.0C895.9,890.2 899.4,893.1 900.7,892.2C902.0,891.3 905.5,883.8 906.7,882.6C907.9,881.4 910.3,882.3 911.5,881.4C912.7,880.5 917.0,874.6 918.1,874.2C919.2,873.8 921.0,875.9 921.7,877.2C922.4,878.5 923.9,887.9 924.7,886.2C925.5,884.5 927.7,862.8 928.8,861.7C929.9,860.6 934.2,874.7 935.4,876.0C936.6,877.3 938.1,876.1 939.6,874.2C941.1,872.3 947.8,859.0 949.8,858.1C951.8,857.2 956.7,865.6 958.1,865.3C959.5,865.0 961.5,857.6 962.9,855.7C964.3,853.8 969.9,847.7 971.3,847.9C972.7,848.1 975.2,856.2 976.1,857.5C977.0,858.8 978.7,860.6 979.6,859.8C980.5,859.0 983.4,852.7 984.3,850.2C985.2,847.7 986.9,835.9 987.9,836.5C988.9,837.1 992.3,855.0 993.3,856.2C994.3,857.4 996.7,850.0 997.5,847.8C998.3,845.6 1000.2,834.6 1001.1,835.9C1002.0,837.2 1004.9,857.8 1005.9,859.8C1006.9,861.8 1009.7,854.8 1010.6,854.4C1011.5,854.0 1013.4,857.0 1014.2,856.2C1015.0,855.4 1017.5,847.1 1018.4,847.2C1019.3,847.3 1021.5,857.3 1022.6,857.4C1023.7,857.5 1027.6,848.6 1028.6,847.8C1029.6,847.0 1031.4,848.5 1032.2,850.2C1033.0,851.9 1034.9,863.0 1035.8,864.0C1036.7,865.0 1039.4,859.8 1040.5,859.8C1041.6,859.8 1045.2,863.4 1046.5,864.0C1047.8,864.6 1051.4,864.4 1052.5,865.2C1053.6,866.0 1055.8,871.8 1056.7,871.7C1057.6,871.6 1060.0,863.1 1060.9,864.6C1061.8,866.1 1064.5,884.3 1065.6,886.1C1066.7,887.9 1070.6,881.7 1071.6,881.3C1072.6,880.9 1074.5,882.5 1075.2,881.9C1075.9,881.3 1077.4,875.1 1078.2,875.9C1079.0,876.7 1082.1,887.5 1083.0,889.1C1083.9,890.7 1085.7,891.2 1086.6,890.9C1087.5,890.6 1090.6,886.5 1091.9,886.1C1093.2,885.7 1097.7,886.6 1099.1,887.3C1100.5,888.0 1104.1,891.6 1105.1,892.6C1106.1,893.6 1107.9,895.5 1108.7,896.8C1109.5,898.1 1111.5,904.0 1112.3,905.2C1113.1,906.4 1114.9,909.0 1115.8,908.2C1116.7,907.4 1119.6,897.3 1120.6,897.4C1121.6,897.5 1124.2,909.3 1125.4,909.4C1126.6,909.5 1130.0,899.5 1131.4,898.0C1132.8,896.5 1137.5,896.7 1138.6,895.6C1139.7,894.5 1141.0,888.4 1142.1,887.3C1143.2,886.2 1148.0,885.9 1149.3,885.5C1150.6,885.1 1153.7,882.0 1154.7,883.1C1155.7,884.2 1158.3,894.1 1158.9,895.6C1159.5,897.1 1159.5,897.3 1160.0,896.8C1160.5,896.3 1162.8,892.7 1163.6,890.9C1164.4,889.1 1166.8,879.3 1167.8,880.1C1168.8,880.9 1171.6,898.1 1172.6,898.6C1173.6,899.1 1176.1,885.8 1177.3,884.9C1178.5,884.0 1182.7,889.7 1183.9,889.7C1185.1,889.7 1187.0,887.4 1188.1,884.9C1189.2,882.4 1193.0,867.2 1194.1,866.3C1195.2,865.4 1197.5,874.4 1198.3,876.5C1199.1,878.6 1201.0,887.8 1201.8,886.1C1202.6,884.4 1205.1,864.1 1206.0,861.0C1206.9,857.9 1209.2,857.3 1210.2,857.4C1211.2,857.5 1214.2,861.9 1215.6,862.2C1217.0,862.5 1221.9,860.3 1223.4,859.8C1224.9,859.3 1228.1,857.8 1229.3,857.4C1230.5,857.0 1233.5,855.3 1234.7,855.6C1235.9,855.9 1239.0,861.4 1240.1,860.4C1241.2,859.4 1243.6,847.5 1244.9,846.6C1246.2,845.7 1251.2,851.7 1252.6,852.0C1254.0,852.3 1257.0,849.4 1258.0,849.0C1259.0,848.6 1261.4,849.8 1262.2,847.8C1263.0,845.8 1264.6,832.1 1265.2,829.9C1265.8,827.7 1266.6,826.7 1267.6,827.5C1268.6,828.3 1273.4,835.1 1274.8,837.1C1276.2,839.1 1279.2,845.1 1280.7,846.0C1282.2,846.9 1287.0,846.1 1288.5,846.0C1290.0,845.9 1293.9,845.8 1295.1,845.4C1296.3,845.0 1298.9,840.3 1299.9,841.8C1300.9,843.3 1303.4,858.1 1304.7,859.8C1306.0,861.5 1311.0,857.7 1312.4,858.0C1313.8,858.3 1316.8,861.9 1317.8,862.2C1318.8,862.5 1321.1,860.2 1322.0,861.0C1322.9,861.8 1325.1,868.9 1326.2,869.9C1327.3,870.9 1331.0,869.5 1332.1,870.5C1333.2,871.5 1335.5,877.2 1336.3,878.9C1337.1,880.6 1338.3,885.9 1339.3,886.7C1340.3,887.5 1344.2,886.0 1345.3,886.7C1346.4,887.4 1348.6,891.4 1349.5,893.2C1350.4,895.0 1352.7,901.6 1353.7,904.0C1354.7,906.4 1358.0,913.5 1359.1,915.3C1360.2,917.1 1362.9,919.8 1363.9,921.3C1364.9,922.8 1367.1,929.0 1368.1,929.7C1369.1,930.4 1372.5,927.8 1373.5,927.9C1374.5,928.0 1376.2,929.8 1377.1,930.9C1378.0,932.0 1380.5,937.1 1381.8,938.0C1383.1,938.9 1387.8,939.2 1389.0,939.8C1390.2,940.4 1391.6,942.6 1392.6,944.0C1393.6,945.4 1396.8,952.6 1398.0,953.0C1399.2,953.4 1402.1,948.5 1403.4,948.2C1404.7,947.9 1409.1,949.2 1410.5,950.0C1411.9,950.8 1415.3,954.9 1416.5,955.4C1417.7,955.9 1420.5,954.4 1421.3,954.8C1422.1,955.2 1423.5,959.9 1424.3,959.5C1425.1,959.1 1427.4,951.2 1428.5,951.2C1429.6,951.2 1433.1,958.6 1434.4,959.5C1435.7,960.4 1439.2,960.2 1440.4,960.1C1441.6,960.0 1443.9,958.7 1445.2,958.9C1446.5,959.1 1451.0,961.8 1452.4,961.9C1453.8,962.0 1457.2,960.3 1458.4,959.5C1459.6,958.7 1462.6,954.4 1463.7,954.2C1464.8,954.0 1468.4,957.4 1469.1,957.8C1469.8,958.2 1469.3,958.2 1470.0,958.4C1470.7,958.6 1474.6,959.1 1475.7,959.4C1476.8,959.7 1479.1,961.0 1480.5,961.3C1481.9,961.6 1487.2,962.1 1489.1,962.2C1491.0,962.3 1496.7,962.3 1498.7,962.2C1500.7,962.1 1506.6,961.9 1508.3,961.3C1510.0,960.7 1513.5,957.1 1514.9,957.0C1516.3,956.9 1519.8,959.8 1521.6,960.3C1523.4,960.8 1530.2,961.5 1532.2,961.8C1534.2,962.1 1539.3,963.0 1540.8,963.2C1542.3,963.4 1545.3,963.8 1546.5,963.7C1547.7,963.6 1550.8,962.2 1552.2,962.2C1553.6,962.2 1558.3,963.6 1559.9,963.7C1561.5,963.8 1566.1,962.9 1567.5,962.7C1568.9,962.5 1572.4,963.1 1573.3,962.2C1574.2,961.3 1575.6,955.7 1576.2,954.6C1576.8,953.5 1578.0,952.1 1578.5,952.2C1579.0,952.3 1580.2,954.2 1580.9,955.6C1581.6,957.0 1584.0,964.7 1584.8,965.1C1585.6,965.5 1587.9,960.2 1588.6,959.4C1589.3,958.6 1590.8,957.4 1591.5,957.5C1592.2,957.6 1594.5,959.4 1595.3,960.3C1596.1,961.2 1598.2,965.6 1599.1,966.1C1600.0,966.6 1603.0,965.3 1603.9,965.1C1604.8,964.9 1607.3,964.3 1607.7,964.2" stroke="#000" stroke-width="7.2"/>
<path id="c-black" d="M412.6,945.6C412.9,945.5 414.3,945.0 415.5,944.4C416.7,943.8 422.2,939.8 423.9,939.7C425.6,939.6 429.3,942.6 431.1,943.2C432.9,943.8 439.0,945.1 440.6,945.0C442.2,944.9 444.8,942.1 446.0,942.1C447.2,942.1 450.1,944.9 451.4,945.0C452.7,945.1 457.1,943.1 458.6,943.2C460.1,943.3 464.5,946.7 465.8,945.6C467.1,944.5 469.8,932.8 471.1,933.1C472.4,933.4 476.2,948.6 477.7,948.6C479.2,948.6 483.2,933.3 484.9,933.1C486.6,932.9 491.5,946.3 493.2,946.8C494.9,947.3 499.1,937.0 500.4,937.9C501.7,938.8 504.6,954.6 505.8,955.2C507.0,955.8 509.9,945.0 511.2,943.2C512.5,941.4 516.5,938.2 517.8,938.5C519.1,938.8 522.0,945.4 523.1,945.6C524.2,945.8 527.2,940.9 528.5,940.3C529.8,939.7 533.8,939.9 535.1,940.3C536.4,940.7 539.2,944.6 540.5,944.4C541.8,944.2 546.1,938.3 547.6,938.5C549.1,938.7 553.3,945.8 554.8,946.2C556.3,946.6 559.9,943.7 561.4,942.6C562.9,941.5 567.8,935.5 569.2,936.1C570.6,936.7 573.3,947.2 574.5,948.0C575.7,948.8 579.0,944.8 580.5,943.2C582.0,941.6 587.3,934.1 588.3,933.1C589.3,932.1 589.2,932.6 590.0,934.0C590.8,935.4 594.3,946.9 595.4,946.6C596.5,946.3 598.9,932.9 600.2,931.6C601.5,930.3 606.6,933.4 607.9,934.6C609.2,935.8 611.8,942.2 612.7,943.0C613.6,943.8 615.5,942.0 616.3,942.4C617.1,942.8 619.5,947.9 620.5,946.6C621.5,945.3 624.7,931.1 625.9,929.8C627.1,928.5 630.3,933.7 631.8,934.6C633.3,935.5 638.3,938.1 640.2,938.2C642.1,938.3 648.2,935.0 649.8,935.2C651.4,935.4 654.1,940.1 655.2,940.0C656.3,939.9 659.3,934.5 660.5,934.0C661.7,933.5 665.2,934.8 666.5,935.2C667.8,935.6 671.2,937.7 672.5,937.6C673.8,937.5 677.1,934.3 678.5,934.0C679.9,933.7 683.9,935.2 685.6,934.6C687.3,934.0 692.2,928.3 694.0,928.0C695.8,927.7 700.5,931.7 702.4,931.6C704.3,931.5 710.1,926.4 711.9,926.8C713.7,927.2 717.9,935.9 719.1,935.8C720.3,935.7 722.4,926.2 723.3,925.6C724.2,925.0 726.5,930.0 727.5,930.4C728.5,930.8 731.0,929.2 732.3,929.8C733.6,930.4 738.0,936.2 739.4,935.8C740.8,935.4 744.2,926.3 745.4,925.6C746.6,924.9 748.9,928.9 750.2,929.2C751.5,929.5 755.9,928.7 757.4,928.6C758.9,928.5 763.1,930.1 764.5,928.6C765.9,927.1 769.3,914.8 770.5,914.9C771.7,915.0 774.9,928.4 775.9,929.8C776.9,931.2 779.1,928.3 779.5,928.0C779.9,927.7 779.1,926.6 780.0,926.8C780.9,927.0 786.5,929.8 787.8,929.8C789.1,929.8 791.1,928.5 792.0,926.8C792.9,925.1 795.8,915.2 796.7,914.3C797.6,913.4 799.2,917.9 800.9,917.9C802.6,917.9 810.2,914.6 812.3,914.3C814.4,914.0 819.2,916.7 820.6,915.5C822.0,914.3 824.2,903.4 825.4,903.5C826.6,903.6 830.1,915.9 831.4,916.1C832.7,916.3 836.7,906.3 838.0,905.3C839.3,904.3 842.5,906.9 843.4,906.5C844.3,906.1 846.0,900.9 846.9,901.7C847.8,902.5 850.7,914.2 851.7,914.3C852.7,914.4 855.3,903.8 856.5,902.9C857.7,902.0 861.2,906.7 862.5,905.9C863.8,905.1 867.7,896.8 869.1,895.8C870.5,894.8 874.3,896.4 875.6,896.3C876.9,896.2 880.5,895.5 881.6,895.2C882.7,894.9 884.9,892.9 885.8,893.4C886.7,893.9 889.0,900.2 890.0,899.9C891.0,899.6 893.7,891.8 894.8,891.0C895.9,890.2 899.4,893.1 900.7,892.2C902.0,891.3 905.5,883.8 906.7,882.6C907.9,881.4 910.3,882.3 911.5,881.4C912.7,880.5 917.0,874.6 918.1,874.2C919.2,873.8 921.0,875.9 921.7,877.2C922.4,878.5 923.9,887.9 924.7,886.2C925.5,884.5 927.7,862.8 928.8,861.7C929.9,860.6 934.2,874.7 935.4,876.0C936.6,877.3 938.1,876.1 939.6,874.2C941.1,872.3 947.8,859.0 949.8,858.1C951.8,857.2 956.7,865.6 958.1,865.3C959.5,865.0 961.5,857.6 962.9,855.7C964.3,853.8 969.9,847.7 971.3,847.9C972.7,848.1 975.2,856.2 976.1,857.5C977.0,858.8 978.7,860.6 979.6,859.8C980.5,859.0 983.4,852.7 984.3,850.2C985.2,847.7 986.9,835.9 987.9,836.5C988.9,837.1 992.3,855.0 993.3,856.2C994.3,857.4 996.7,850.0 997.5,847.8C998.3,845.6 1000.2,834.6 1001.1,835.9C1002.0,837.2 1004.9,857.8 1005.9,859.8C1006.9,861.8 1009.7,854.8 1010.6,854.4C1011.5,854.0 1013.4,857.0 1014.2,856.2C1015.0,855.4 1017.5,847.1 1018.4,847.2C1019.3,847.3 1021.5,857.3 1022.6,857.4C1023.7,857.5 1027.6,848.6 1028.6,847.8C1029.6,847.0 1031.4,848.5 1032.2,850.2C1033.0,851.9 1034.9,863.0 1035.8,864.0C1036.7,865.0 1039.4,859.8 1040.5,859.8C1041.6,859.8 1045.2,863.4 1046.5,864.0C1047.8,864.6 1051.4,864.4 1052.5,865.2C1053.6,866.0 1055.8,871.8 1056.7,871.7C1057.6,871.6 1060.0,863.1 1060.9,864.6C1061.8,866.1 1064.5,884.3 1065.6,886.1C1066.7,887.9 1070.6,881.7 1071.6,881.3C1072.6,880.9 1074.5,882.5 1075.2,881.9C1075.9,881.3 1077.4,875.1 1078.2,875.9C1079.0,876.7 1082.1,887.5 1083.0,889.1C1083.9,890.7 1085.7,891.2 1086.6,890.9C1087.5,890.6 1090.6,886.5 1091.9,886.1C1093.2,885.7 1097.7,886.6 1099.1,887.3C1100.5,888.0 1104.1,891.6 1105.1,892.6C1106.1,893.6 1107.9,895.5 1108.7,896.8C1109.5,898.1 1111.5,904.0 1112.3,905.2C1113.1,906.4 1114.9,909.0 1115.8,908.2C1116.7,907.4 1119.6,897.3 1120.6,897.4C1121.6,897.5 1124.2,909.3 1125.4,909.4C1126.6,909.5 1130.0,899.5 1131.4,898.0C1132.8,896.5 1137.5,896.7 1138.6,895.6C1139.7,894.5 1141.0,888.4 1142.1,887.3C1143.2,886.2 1148.0,885.9 1149.3,885.5C1150.6,885.1 1153.7,882.0 1154.7,883.1C1155.7,884.2 1158.3,894.1 1158.9,895.6C1159.5,897.1 1159.5,897.3 1160.0,896.8C1160.5,896.3 1162.8,892.7 1163.6,890.9C1164.4,889.1 1166.8,879.3 1167.8,880.1C1168.8,880.9 1171.6,898.1 1172.6,898.6C1173.6,899.1 1176.1,885.8 1177.3,884.9C1178.5,884.0 1182.7,889.7 1183.9,889.7C1185.1,889.7 1187.0,887.4 1188.1,884.9C1189.2,882.4 1193.0,867.2 1194.1,866.3C1195.2,865.4 1197.5,874.4 1198.3,876.5C1199.1,878.6 1201.0,887.8 1201.8,886.1C1202.6,884.4 1205.1,864.1 1206.0,861.0C1206.9,857.9 1209.2,857.3 1210.2,857.4C1211.2,857.5 1214.2,861.9 1215.6,862.2C1217.0,862.5 1221.9,860.3 1223.4,859.8C1224.9,859.3 1228.1,857.8 1229.3,857.4C1230.5,857.0 1233.5,855.3 1234.7,855.6C1235.9,855.9 1239.0,861.4 1240.1,860.4C1241.2,859.4 1243.6,847.5 1244.9,846.6C1246.2,845.7 1251.2,851.7 1252.6,852.0C1254.0,852.3 1257.0,849.4 1258.0,849.0C1259.0,848.6 1261.4,849.8 1262.2,847.8C1263.0,845.8 1264.6,832.1 1265.2,829.9C1265.8,827.7 1266.6,826.7 1267.6,827.5C1268.6,828.3 1273.4,835.1 1274.8,837.1C1276.2,839.1 1279.2,845.1 1280.7,846.0C1282.2,846.9 1287.0,846.1 1288.5,846.0C1290.0,845.9 1293.9,845.8 1295.1,845.4C1296.3,845.0 1298.9,840.3 1299.9,841.8C1300.9,843.3 1303.4,858.1 1304.7,859.8C1306.0,861.5 1311.0,857.7 1312.4,858.0C1313.8,858.3 1316.8,861.9 1317.8,862.2C1318.8,862.5 1321.1,860.2 1322.0,861.0C1322.9,861.8 1325.1,868.9 1326.2,869.9C1327.3,870.9 1331.0,869.5 1332.1,870.5C1333.2,871.5 1335.5,877.2 1336.3,878.9C1337.1,880.6 1338.3,885.9 1339.3,886.7C1340.3,887.5 1344.2,886.0 1345.3,886.7C1346.4,887.4 1348.6,891.4 1349.5,893.2C1350.4,895.0 1352.7,901.6 1353.7,904.0C1354.7,906.4 1358.0,913.5 1359.1,915.3C1360.2,917.1 1362.9,919.8 1363.9,921.3C1364.9,922.8 1367.1,929.0 1368.1,929.7C1369.1,930.4 1372.5,927.8 1373.5,927.9C1374.5,928.0 1376.2,929.8 1377.1,930.9C1378.0,932.0 1380.5,937.1 1381.8,938.0C1383.1,938.9 1387.8,939.2 1389.0,939.8C1390.2,940.4 1391.6,942.6 1392.6,944.0C1393.6,945.4 1396.8,952.6 1398.0,953.0C1399.2,953.4 1402.1,948.5 1403.4,948.2C1404.7,947.9 1409.1,949.2 1410.5,950.0C1411.9,950.8 1415.3,954.9 1416.5,955.4C1417.7,955.9 1420.5,954.4 1421.3,954.8C1422.1,955.2 1423.5,959.9 1424.3,959.5C1425.1,959.1 1427.4,951.2 1428.5,951.2C1429.6,951.2 1433.1,958.6 1434.4,959.5C1435.7,960.4 1439.2,960.2 1440.4,960.1C1441.6,960.0 1443.9,958.7 1445.2,958.9C1446.5,959.1 1451.0,961.8 1452.4,961.9C1453.8,962.0 1457.2,960.3 1458.4,959.5C1459.6,958.7 1462.6,954.4 1463.7,954.2C1464.8,954.0 1468.4,957.4 1469.1,957.8C1469.8,958.2 1469.3,958.2 1470.0,958.4C1470.7,958.6 1474.6,959.1 1475.7,959.4C1476.8,959.7 1479.1,961.0 1480.5,961.3C1481.9,961.6 1487.2,962.1 1489.1,962.2C1491.0,962.3 1496.7,962.3 1498.7,962.2C1500.7,962.1 1506.6,961.9 1508.3,961.3C1510.0,960.7 1513.5,957.1 1514.9,957.0C1516.3,956.9 1519.8,959.8 1521.6,960.3C1523.4,960.8 1530.2,961.5 1532.2,961.8C1534.2,962.1 1539.3,963.0 1540.8,963.2C1542.3,963.4 1545.3,963.8 1546.5,963.7C1547.7,963.6 1550.8,962.2 1552.2,962.2C1553.6,962.2 1558.3,963.6 1559.9,963.7C1561.5,963.8 1566.1,962.9 1567.5,962.7C1568.9,962.5 1572.4,963.1 1573.3,962.2C1574.2,961.3 1575.6,955.7 1576.2,954.6C1576.8,953.5 1578.0,952.1 1578.5,952.2C1579.0,952.3 1580.2,954.2 1580.9,955.6C1581.6,957.0 1584.0,964.7 1584.8,965.1C1585.6,965.5 1587.9,960.2 1588.6,959.4C1589.3,958.6 1590.8,957.4 1591.5,957.5C1592.2,957.6 1594.5,959.4 1595.3,960.3C1596.1,961.2 1598.2,965.6 1599.1,966.1C1600.0,966.6 1603.0,965.3 1603.9,965.1C1604.8,964.9 1607.3,964.3 1607.7,964.2" stroke="#000" stroke-width="5.8"/>
</g>
</g>
</svg>
</body>
</html>
